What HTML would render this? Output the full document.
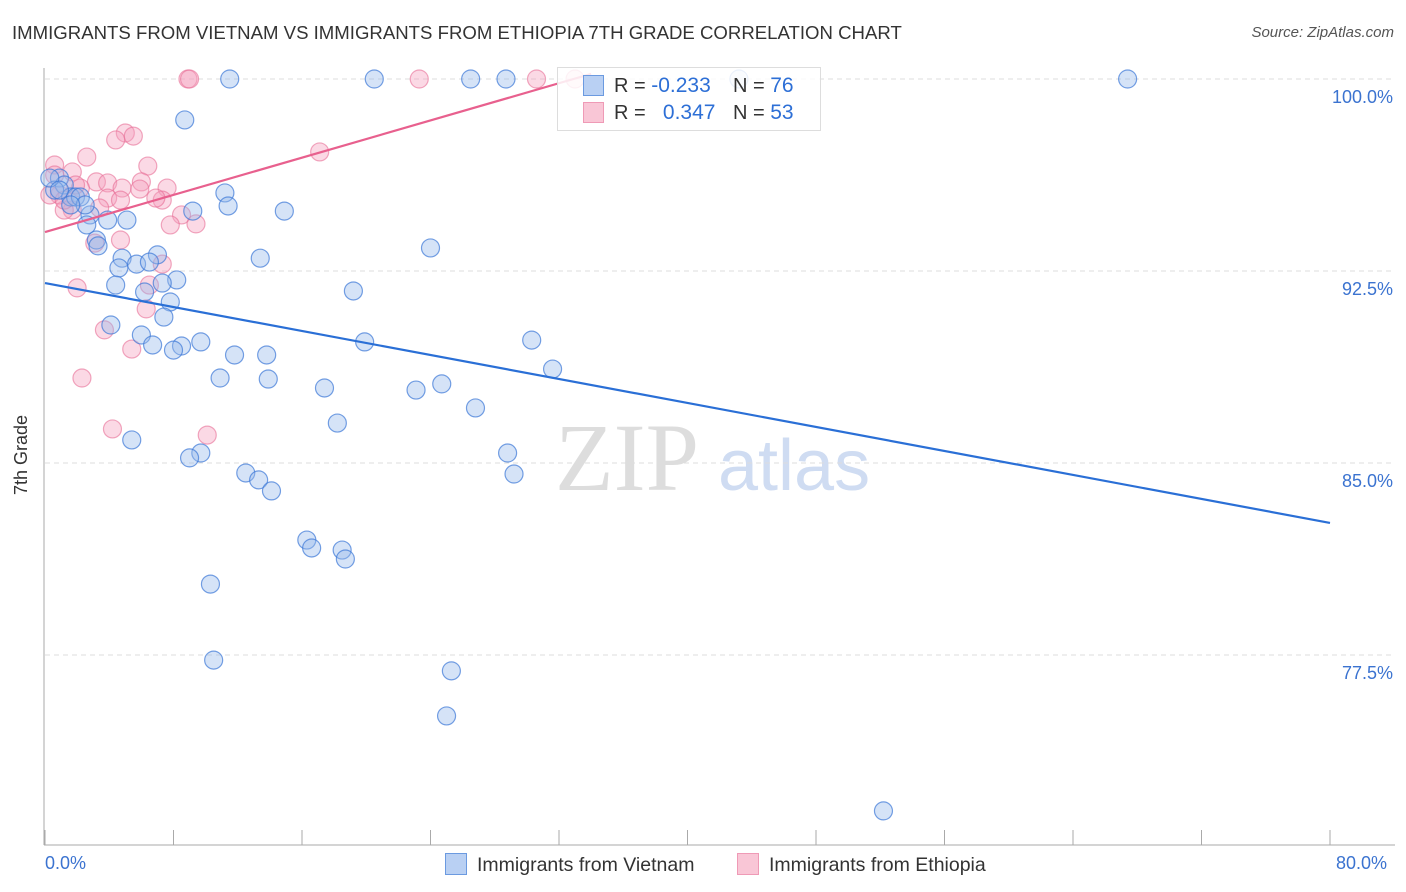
<!DOCTYPE html>
<html><head><meta charset="utf-8"><style>
body{margin:0;background:#fff;font-family:"Liberation Sans",sans-serif;}
#wrap{position:relative;width:1406px;height:892px;overflow:hidden;}
.t{position:absolute;white-space:nowrap;}
</style></head><body>
<div id="wrap">
<div class="t" style="left:12px;top:22px;font-size:18.6px;color:#333;">IMMIGRANTS FROM VIETNAM VS IMMIGRANTS FROM ETHIOPIA 7TH GRADE CORRELATION CHART</div>
<div class="t" style="right:12px;top:24px;font-size:15px;color:#555;font-style:italic;">Source: ZipAtlas.com</div>
<svg id="svg" width="1406" height="892" style="position:absolute;left:0;top:0">
<text x="555" y="490" font-family="Liberation Serif,serif" font-size="96" fill="#ddd">ZIP</text>
<text x="718" y="490" font-family="Liberation Sans,sans-serif" font-size="72" fill="#cfdcf2">atlas</text>
<g id="grid"></g><g id="pts"></g><g id="lines"></g>
<text x="27" y="455" transform="rotate(-90 27 455)" text-anchor="middle" font-size="18" fill="#333">7th Grade</text>
</svg>
<div class="t" style="left:557px;top:67px;width:262px;height:62px;border:1px solid #ddd;background:rgba(255,255,255,0.85);"></div>
<div class="t" style="left:583px;top:75px;width:19px;height:19px;background:#b9d0f3;border:1px solid #6b9ae0;"></div>
<div class="t" style="left:583px;top:102px;width:19px;height:19px;background:#f9c6d6;border:1px solid #ef9ab6;"></div>
<div class="t" style="left:614px;top:74px;font-size:20px;color:#333;">R = <span style="color:#2d6fd6;font-size:21px">-0.233</span></div>
<div class="t" style="left:733px;top:74px;font-size:20px;color:#333;">N = <span style="color:#2d6fd6;font-size:21px">76</span></div>
<div class="t" style="left:614px;top:101px;font-size:20px;color:#333;">R = <span style="color:#2d6fd6;font-size:21px">&nbsp;&nbsp;0.347</span></div>
<div class="t" style="left:733px;top:101px;font-size:20px;color:#333;">N = <span style="color:#2d6fd6;font-size:21px">53</span></div>
<div class="t" style="left:45px;top:853px;font-size:18px;color:#3b73d0;">0.0%</div>
<div class="t" style="left:1336px;top:853px;font-size:18px;color:#3b73d0;">80.0%</div>
<div class="t" style="left:445px;top:853px;font-size:19.5px;color:#333;"><span style="display:inline-block;width:20px;height:20px;background:#b9d0f3;border:1px solid #6b9ae0;vertical-align:-4px;margin-right:10px;"></span>Immigrants from Vietnam</div>
<div class="t" style="left:737px;top:853px;font-size:19.5px;color:#333;"><span style="display:inline-block;width:20px;height:20px;background:#f9c6d6;border:1px solid #ef9ab6;vertical-align:-4px;margin-right:10px;"></span>Immigrants from Ethiopia</div>
</div>
<script>
const yTicks=[100,92.5,85,77.5];
const yTickLabels=["100.0%","92.5%","85.0%","77.5%"];
const xTicks=[0,8,16,24,32,40,48,56,64,72,80];
const vietnamX=[11.5,20.5,26.5,28.7,43.2,67.4,8.7,11.2,11.4,9.2,14.9,5.1,3.9,2.8,2.6,3.2,3.3,4.8,4.6,5.7,7.0,6.5,8.2,7.3,4.4,6.2,7.8,7.4,4.1,6.0,6.7,8.5,9.7,8.0,11.8,13.8,13.4,24.0,19.2,19.9,30.3,31.6,10.9,13.9,17.4,23.1,24.7,26.8,18.2,5.4,9.7,9.0,28.8,29.2,12.5,13.3,14.1,16.3,16.6,18.5,18.7,10.3,10.5,25.3,25.0,52.2,0.9,1.2,0.6,1.6,1.9,2.2,0.3,0.9,2.5,1.6];
const vietnamY=[100,100,100,100,100,100,98.4,95.55,95.04,94.84,94.84,94.49,94.49,94.69,94.3,93.71,93.48,93.0,92.62,92.77,93.13,92.85,92.15,92.03,91.95,91.68,91.29,90.7,90.39,90.0,89.61,89.57,89.73,89.41,89.22,89.22,93.0,93.4,91.72,89.73,89.8,88.67,88.32,88.28,87.93,87.85,88.09,87.15,86.56,85.9,85.39,85.2,85.39,84.57,84.61,84.34,83.91,81.99,81.68,81.6,81.25,80.27,77.3,76.88,75.12,71.41,96.13,95.86,95.66,95.39,95.39,95.39,96.13,95.66,95.08,95.08];
const ethiopiaX=[8.9,9.0,23.3,30.6,33.0,5.0,4.4,5.5,2.6,0.6,17.1,6.4,1.7,3.2,3.9,6.0,4.8,5.9,7.6,2.2,7.3,6.9,3.9,4.7,3.4,1.7,1.2,8.5,7.8,9.4,4.7,3.1,7.3,6.5,2.0,6.3,3.7,5.4,2.3,4.2,10.1,0.9,0.3,0.6,1.9,1.2];
const ethiopiaY=[100,100,100,100,100,97.89,97.62,97.77,96.95,96.64,97.15,96.6,96.37,95.98,95.94,95.98,95.74,95.7,95.74,95.74,95.27,95.35,95.35,95.27,94.96,94.88,94.88,94.69,94.3,94.34,93.71,93.59,92.77,91.95,91.84,91.02,90.2,89.45,88.32,86.33,86.09,95.47,95.47,96.25,95.86,95.27];
const vietnamTrend=[[0,92.03],[80,82.66]];
const ethiopiaTrend=[[0,94.02],[34,100.2]];
const NS="http://www.w3.org/2000/svg";
function sx(v){return 45+v*(1285/80);}
function sy(v){return 79+(100-v)*25.6;}
function mk(tag,attrs,parent){const e=document.createElementNS(NS,tag);for(const k in attrs)e.setAttribute(k,attrs[k]);parent.appendChild(e);return e;}
const grid=document.getElementById('grid'),pts=document.getElementById('pts'),lines=document.getElementById('lines');
yTicks.forEach((t,i)=>{
 const l=mk('line',{x1:45,x2:1395,y1:sy(t),y2:sy(t),stroke:'#ddd','stroke-dasharray':'5,4'},grid);
 
 
 const tx=mk('text',{x:1393,y:sy(t)+24,'text-anchor':'end','font-size':18,fill:'#3b73d0','font-family':'Liberation Sans,sans-serif'},grid);
 tx.textContent=yTickLabels[i];
 
 
});
const ax=mk('line',{x1:44,x2:44,y1:68,y2:845,stroke:'#aaa'},grid);


const bx=mk('line',{x1:44,x2:1395,y1:845,y2:845,stroke:'#aaa'},grid);


xTicks.forEach(t=>{
 const l=mk('line',{x1:sx(t),x2:sx(t),y1:830,y2:845,stroke:'#aaa'},grid);
 
 
});
function dots(X,Y,fill,stroke,name){X.forEach((x,i)=>{
 const c=mk('circle',{cx:sx(x),cy:sy(Y[i]),r:9,fill:fill,stroke:stroke,'stroke-width':1.2},pts);
 
 
});}
dots(ethiopiaX,ethiopiaY,'rgba(246,160,190,0.4)','rgba(232,110,150,0.6)','ethiopia-point');
dots(vietnamX,vietnamY,'rgba(150,185,235,0.4)','rgba(60,120,215,0.7)','vietnam-point');
const l1=mk('line',{x1:sx(vietnamTrend[0][0]),y1:sy(vietnamTrend[0][1]),x2:sx(vietnamTrend[1][0]),y2:sy(vietnamTrend[1][1]),stroke:'#2a6fd6','stroke-width':2.2},lines);


const l2=mk('line',{x1:sx(ethiopiaTrend[0][0]),y1:sy(ethiopiaTrend[0][1]),x2:sx(ethiopiaTrend[1][0]),y2:sy(ethiopiaTrend[1][1]),stroke:'#e8608e','stroke-width':2.2},lines);


</script>
</body></html>
